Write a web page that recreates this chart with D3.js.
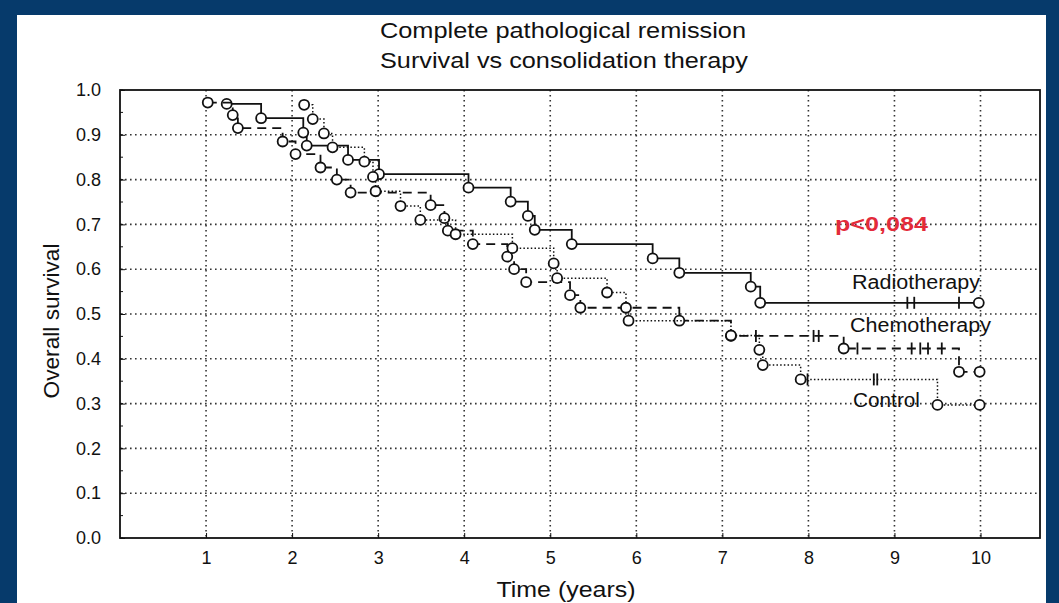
<!DOCTYPE html>
<html><head><meta charset="utf-8">
<script src="https://cdn.jsdelivr.net/npm/d3@7"></script>
<style>
body{margin:0;background:#063a6b;overflow:hidden}
svg{display:block}
text{font-family:"Liberation Sans Narrow","Arial Narrow","Liberation Sans",Arial,sans-serif;fill:#111}
</style>
</head><body>
<svg id="chart" width="1059" height="603"></svg>
<script>
// ---- data ----
const titleLines = ["Complete pathological remission", "Survival vs consolidation therapy"];
const xTickValues = [1, 2, 3, 4, 5, 6, 7, 8, 9, 10];
const yTickValues = [0, 0.1, 0.2, 0.3, 0.4, 0.5, 0.6, 0.7, 0.8, 0.9, 1.0];
const seriesNames = ["Radiotherapy", "Chemotherapy", "Control"];
const pValueLabel = "p<0,084";

// Radiotherapy (solid)
const radioTimes = [1.24, 1.64, 2.13, 2.17, 2.65, 3.01, 4.05, 4.54, 4.74, 4.82, 5.25, 6.19, 6.50, 7.33, 7.44];
const radioSurv  = [0.969, 0.937, 0.905, 0.876, 0.844, 0.812, 0.782, 0.751, 0.719, 0.688, 0.656, 0.624, 0.592, 0.561, 0.525];
const radioCensored = [9.15, 9.23, 9.75];
const radioLast = 9.98;

// Chemotherapy (dashed)
const chemoTimes = [1.02, 1.31, 1.37, 1.89, 2.04, 2.33, 2.52, 2.68, 3.61, 3.77, 3.81, 4.10, 4.50, 4.58, 4.72, 5.23, 5.35, 6.50, 7.10, 8.41, 9.75];
const chemoSurv  = [0.972, 0.944, 0.915, 0.885, 0.857, 0.827, 0.800, 0.771, 0.743, 0.714, 0.686, 0.656, 0.628, 0.600, 0.571, 0.542, 0.514, 0.485, 0.451, 0.423, 0.371];
const chemoCensored = [7.39, 8.06, 8.12, 8.57, 9.20, 9.30, 9.39, 9.55];
const chemoLast = 9.99;

// Control (dotted)
const controlTimes = [2.14, 2.24, 2.37, 2.47, 2.84, 2.94, 2.97, 3.26, 3.49, 3.90, 4.56, 5.04, 5.08, 5.66, 5.88, 5.91, 7.10, 7.43, 7.47, 7.91, 9.50];
const controlSurv  = [0.967, 0.935, 0.903, 0.872, 0.840, 0.806, 0.774, 0.741, 0.710, 0.678, 0.647, 0.613, 0.580, 0.548, 0.514, 0.485, 0.452, 0.420, 0.386, 0.354, 0.297];
const controlCensored = [7.99, 8.76, 8.80];
const controlLast = 9.99;

// ---- drawing ----
const svg = d3.select("#chart");
svg.append("rect").attr("x", 0).attr("y", 0).attr("width", 1059).attr("height", 603).attr("fill", "#063a6b");
svg.append("rect").attr("x", 17).attr("y", 15).attr("width", 1029).attr("height", 600).attr("fill", "#ffffff");

const pLeft = 120, pRight = 1040, pTop = 90, pBottom = 538;
const x = d3.scaleLinear().domain([0, (pRight - pLeft) / 86.05]).range([pLeft, pRight]);
const y = d3.scaleLinear().domain([0, 1]).range([pBottom, pTop]);

// grid
const grid = svg.append("g").attr("stroke", "#333").attr("stroke-width", 1.6).attr("stroke-dasharray", "1.6,3.4");
grid.selectAll("line.v").data(xTickValues).join("line").attr("class", "v")
  .attr("x1", d => x(d)).attr("x2", d => x(d)).attr("y1", pTop).attr("y2", pBottom);
grid.selectAll("line.h").data(yTickValues.filter(d => d > 0 && d < 1)).join("line").attr("class", "h")
  .attr("y1", d => y(d)).attr("y2", d => y(d)).attr("x1", pLeft).attr("x2", pRight);

// axes
const yAxis = d3.axisLeft(y).tickValues(yTickValues).tickFormat(d3.format(".1f")).tickSizeInner(-5).tickSizeOuter(0).tickPadding(19);
const gy = svg.append("g").attr("transform", `translate(${pLeft},0)`).call(yAxis);
gy.select(".domain").remove();
gy.selectAll("text").attr("font-size", 18).style("font-family", "'Liberation Sans',Arial,sans-serif");
gy.selectAll("line").attr("stroke", "#111");

const xAxis = d3.axisBottom(x).tickValues(xTickValues).tickFormat(d3.format("d")).tickSizeInner(-5).tickSizeOuter(0).tickPadding(13);
const gx = svg.append("g").attr("transform", `translate(0,${pBottom})`).call(xAxis);
gx.select(".domain").remove();
gx.selectAll("text").attr("font-size", 18).style("font-family", "'Liberation Sans',Arial,sans-serif");
gx.selectAll("line").attr("stroke", "#111");

// minor ticks on left axis
svg.append("g").selectAll("line").data(d3.range(0, 21).map(i => i * 0.05)).join("line")
  .attr("x1", pLeft).attr("x2", pLeft + 3).attr("y1", d => y(d)).attr("y2", d => y(d))
  .attr("stroke", "#111").attr("stroke-width", 1);

// frame
svg.append("rect").attr("x", pLeft).attr("y", pTop).attr("width", pRight - pLeft).attr("height", pBottom - pTop)
  .attr("fill", "none").attr("stroke", "#111").attr("stroke-width", 1.8);

// curves
function stepPoints(times, surv, last) {
  const pts = [[times[0], surv[0]]];
  for (let i = 1; i < times.length; i++) {
    pts.push([times[i], surv[i - 1]]);
    pts.push([times[i], surv[i]]);
  }
  pts.push([last, surv[surv.length - 1]]);
  return pts;
}
function survAt(times, surv, t) {
  let s = surv[0];
  for (let i = 0; i < times.length; i++) if (times[i] <= t) s = surv[i];
  return s;
}
const line = d3.line().x(d => x(d[0])).y(d => y(d[1]));
const series = [
  {times: radioTimes, surv: radioSurv, cens: radioCensored, last: radioLast, dash: null, width: 1.8},
  {times: chemoTimes, surv: chemoSurv, cens: chemoCensored, last: chemoLast, dash: "9,6", width: 1.8},
  {times: controlTimes, surv: controlSurv, cens: controlCensored, last: controlLast, dash: "1.5,2.2", width: 1.5}
];
series.forEach(s => {
  const g = svg.append("g");
  g.append("path").attr("d", line(stepPoints(s.times, s.surv, s.last)))
    .attr("fill", "none").attr("stroke", "#111").attr("stroke-width", s.width)
    .attr("stroke-dasharray", s.dash);
  g.selectAll("line.c").data(s.cens).join("line").attr("class", "c")
    .attr("x1", d => x(d)).attr("x2", d => x(d))
    .attr("y1", d => y(survAt(s.times, s.surv, d)) - 6).attr("y2", d => y(survAt(s.times, s.surv, d)) + 6)
    .attr("stroke", "#111").attr("stroke-width", 1.8);
  const pts = s.times.map((t, i) => [t, s.surv[i]]).concat([[s.last, s.surv[s.surv.length - 1]]]);
  g.selectAll("circle").data(pts).join("circle")
    .attr("cx", d => x(d[0])).attr("cy", d => y(d[1])).attr("r", 5)
    .attr("fill", "#fff").attr("stroke", "#111").attr("stroke-width", 1.8);
});

// texts
svg.append("text").attr("x", 563).attr("y", 38).attr("text-anchor", "middle").attr("font-size", 22)
  .attr("textLength", 366).attr("lengthAdjust", "spacingAndGlyphs").text(titleLines[0]);
svg.append("text").attr("x", 564).attr("y", 68).attr("text-anchor", "middle").attr("font-size", 22)
  .attr("textLength", 368).attr("lengthAdjust", "spacingAndGlyphs").text(titleLines[1]);
svg.append("text").attr("x", 566).attr("y", 597).attr("text-anchor", "middle").attr("font-size", 22)
  .attr("textLength", 139).attr("lengthAdjust", "spacingAndGlyphs").text("Time (years)");
svg.append("text").attr("transform", "translate(59,321) rotate(-90)").attr("text-anchor", "middle").attr("font-size", 22)
  .attr("textLength", 155).attr("lengthAdjust", "spacingAndGlyphs").text("Overall survival");

const legendPos = [[852, 289, 128], [850, 332, 141], [853, 407, 67]];
seriesNames.forEach((n, i) => {
  svg.append("text").attr("x", legendPos[i][0]).attr("y", legendPos[i][1]).attr("font-size", 20)
    .attr("textLength", legendPos[i][2]).attr("lengthAdjust", "spacingAndGlyphs").text(n);
});
svg.append("text").attr("x", 835).attr("y", 231).attr("font-size", 20).attr("font-weight", "bold")
  .attr("textLength", 93).attr("lengthAdjust", "spacingAndGlyphs")
  .style("fill", "#e32b3a").style("font-family", "'Liberation Sans',Arial,sans-serif").text(pValueLabel);
</script>
</body></html>
